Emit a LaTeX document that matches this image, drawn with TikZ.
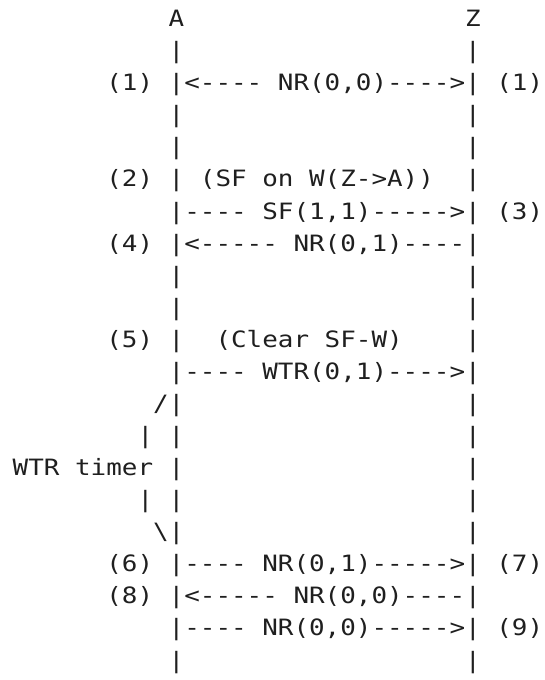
\documentclass[tikz,border=0pt]{standalone}
\usepackage{fontspec}
\setmonofont[FakeStretch=1.152]{DejaVu Sans Mono}
\begin{document}
\begin{tikzpicture}[x=1pt,y=1pt,
  txt/.style={anchor=base west, inner sep=0pt, outer sep=0pt,
    font=\ttfamily\fontsize{22.5}{27}\selectfont, text=black!88}]
\useasboundingbox (0,0) rectangle (544,-680);
\newcommand\Tx[3]{\node[txt] (r#2c#1) at ({12.7+15.6*#1},{-26.6-32.07*#2}) {#3};}
% row 0
\Tx{10}{0}{A}\Tx{29}{0}{Z}
\Tx{10}{1}{|}\Tx{29}{1}{|}
\Tx{6}{2}{(1)}\Tx{10}{2}{|<----}\Tx{17}{2}{NR(0,0)---->|}\Tx{31}{2}{(1)}
\Tx{10}{3}{|}\Tx{29}{3}{|}
\Tx{10}{4}{|}\Tx{29}{4}{|}
\Tx{6}{5}{(2)}\Tx{10}{5}{|}\Tx{12}{5}{(SF}\Tx{16}{5}{on}\Tx{19}{5}{W(Z->A))}\Tx{29}{5}{|}
\Tx{10}{6}{|----}\Tx{16}{6}{SF(1,1)----->|}\Tx{31}{6}{(3)}
\Tx{6}{7}{(4)}\Tx{10}{7}{|<-----}\Tx{18}{7}{NR(0,1)----|}
\Tx{10}{8}{|}\Tx{29}{8}{|}
\Tx{10}{9}{|}\Tx{29}{9}{|}
\Tx{6}{10}{(5)}\Tx{10}{10}{|}\Tx{13}{10}{(Clear}\Tx{20}{10}{SF-W)}\Tx{29}{10}{|}
\Tx{10}{11}{|----}\Tx{16}{11}{WTR(0,1)---->|}
\Tx{9}{12}{/|}\Tx{29}{12}{|}
\Tx{8}{13}{|}\Tx{10}{13}{|}\Tx{29}{13}{|}
\Tx{0}{14}{WTR}\Tx{4}{14}{timer}\Tx{10}{14}{|}\Tx{29}{14}{|}
\Tx{8}{15}{|}\Tx{10}{15}{|}\Tx{29}{15}{|}
\Tx{9}{16}{\textbackslash|}\Tx{29}{16}{|}
\Tx{6}{17}{(6)}\Tx{10}{17}{|----}\Tx{16}{17}{NR(0,1)----->|}\Tx{31}{17}{(7)}
\Tx{6}{18}{(8)}\Tx{10}{18}{|<-----}\Tx{18}{18}{NR(0,0)----|}
\Tx{10}{19}{|----}\Tx{16}{19}{NR(0,0)----->|}\Tx{31}{19}{(9)}
\Tx{10}{20}{|}\Tx{29}{20}{|}
\end{tikzpicture}
\end{document}
